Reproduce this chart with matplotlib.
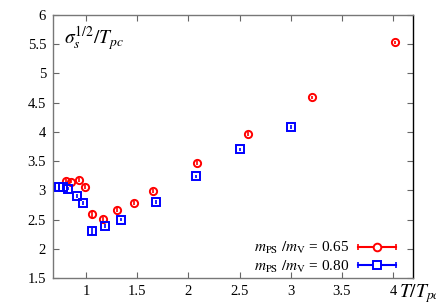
import matplotlib
matplotlib.use("Agg")
import matplotlib.pyplot as plt
import matplotlib.transforms as mtrans
from matplotlib.lines import Line2D
from matplotlib.legend_handler import HandlerBase
from matplotlib.ticker import FuncFormatter

plt.rcParams['font.family'] = ['Liberation Serif', 'DejaVu Serif']
plt.rcParams['mathtext.fontset'] = 'stix'

# Data: m_PS/m_V = 0.65
t65 = [0.805, 0.85, 0.93, 0.987, 1.06, 1.166, 1.30, 1.47, 1.655, 2.08, 2.587, 3.21, 4.02]
s65 = [3.16, 3.15, 3.18, 3.06, 2.59, 2.51, 2.67, 2.78, 2.99, 3.47, 3.96, 4.59, 5.53]
e65 = [0.03, 0.03, 0.03, 0.03, 0.06, 0.04, 0.04, 0.03, 0.03, 0.03, 0.03, 0.03, 0.03]

# Data: m_PS/m_V = 0.80
t80 = [0.733, 0.77, 0.827, 0.91, 0.97, 1.06, 1.19, 1.34, 1.68, 2.07, 2.505, 3.005]
s80 = [3.055, 3.06, 3.03, 2.90, 2.78, 2.30, 2.39, 2.50, 2.80, 3.24, 3.70, 4.08]
e80 = [0.03, 0.03, 0.03, 0.03, 0.03, 0.06, 0.04, 0.03, 0.03, 0.03, 0.03, 0.03]

labels = [r'$m_{\rm PS}\ /m_{\rm V}$ = 0.65', r'$m_{\rm PS}\ /m_{\rm V}$ = 0.80']
xticks = [1, 1.5, 2, 2.5, 3, 3.5, 4]
yticks = [1.5, 2, 2.5, 3, 3.5, 4, 4.5, 5, 5.5, 6]

fig = plt.figure(figsize=(4.36, 3.05), dpi=100)
ax = fig.add_axes([0.1216, 0.0885, 0.8254, 0.8625])

ax.errorbar(t65, s65, yerr=e65, fmt='o', ms=5.2, mfc='none', mec='#ff0000', mew=1.4,
            ecolor='#ff0000', elinewidth=1.2, capsize=0, zorder=3)
ax.errorbar(t80, s80, yerr=e80, fmt='s', ms=5.6, mfc='none', mec='#0000ff', mew=1.4,
            ecolor='#0000ff', elinewidth=1.2, capsize=0, zorder=3)

ax.set_xlim(0.677, 4.195)
ax.set_ylim(1.5, 6)
ax.set_xticks(xticks)
ax.set_yticks(yticks)
ax.xaxis.set_major_formatter(FuncFormatter(lambda v, p: '%g' % v))
ax.yaxis.set_major_formatter(FuncFormatter(lambda v, p: '%g' % v))
ax.tick_params(direction='in', length=4, width=0.8, top=True, right=True,
               labelsize=10.5, color='#666666', pad=5)
for s in ['left', 'top', 'bottom']:
    ax.spines[s].set_color('#777777')
ax.spines['right'].set_color('black')
for s in ax.spines.values():
    s.set_linewidth(1.0)

ax.text(0.03, 0.965, r'$\sigma_s^{1/2}/T_{pc}$', transform=ax.transAxes,
        fontsize=14, va='top', ha='left')
ax.text(4.06, 1.5, r'$T/T_{pc}$', fontsize=14, va='top', ha='left', clip_on=False,
        transform=ax.transData + mtrans.ScaledTranslation(0, -3 / 72, fig.dpi_scale_trans))


class CapHandler(HandlerBase):
    def create_artists(self, legend, orig_handle, xdescent, ydescent, width, height, fontsize, trans):
        c = orig_handle.get_color()
        m = orig_handle.get_marker()
        ms = orig_handle.get_markersize()
        y = height / 2 - ydescent
        x0 = -xdescent
        ln = Line2D([x0, x0 + width], [y, y], color=c, lw=1.5, transform=trans)
        caps = Line2D([x0, x0 + width], [y, y], color=c, ls='none', marker='|', ms=4,
                      mew=1.2, transform=trans)
        mk = Line2D([x0 + width / 2], [y], marker=m, ms=ms, mfc='white', mec=c, mew=1.4,
                    ls='none', transform=trans)
        return [ln, caps, mk]


h1 = Line2D([], [], color='#ff0000', marker='o', ms=5.5)
h2 = Line2D([], [], color='#0000ff', marker='s', ms=5.5)
ax.legend([h1, h2], labels, loc='lower right', frameon=False, markerfirst=False,
          handler_map={Line2D: CapHandler()}, handlelength=2.5, fontsize=11,
          labelspacing=0.15, handletextpad=0.55, borderaxespad=0.0, borderpad=0.3,
          bbox_to_anchor=(0.965, -0.005))

fig.savefig('out.png', dpi=100)
